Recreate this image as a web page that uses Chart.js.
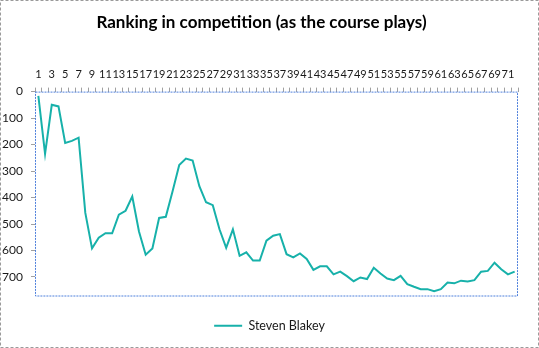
<!DOCTYPE html>
<html>
<head>
<meta charset="utf-8">
<script src="https://cdn.jsdelivr.net/npm/chart.js@4"></script>
<style>
  html, body { margin: 0; padding: 0; background: #fff; }
</style>
</head>
<body>
<canvas id="rankChart" width="539" height="348"></canvas>
<script>
// holes played, 1..72
const holes = [
  1, 2, 3, 4, 5, 6, 7, 8, 9, 10, 11, 12, 13, 14, 15, 16, 17, 18,
  19, 20, 21, 22, 23, 24, 25, 26, 27, 28, 29, 30, 31, 32, 33, 34, 35, 36,
  37, 38, 39, 40, 41, 42, 43, 44, 45, 46, 47, 48, 49, 50, 51, 52, 53, 54,
  55, 56, 57, 58, 59, 60, 61, 62, 63, 64, 65, 66, 67, 68, 69, 70, 71, 72
];

// ranking after each hole
const blakeyRanks = [
  16, 235, 50, 56, 194, 186, 174, 458, 592, 552, 535, 535,
  465, 450, 396, 528, 616, 592, 477, 473, 377, 277, 253, 260,
  357, 418, 429, 520, 590, 520, 620, 607, 638, 638, 563, 544,
  538, 614, 626, 611, 632, 673, 660, 660, 690, 680, 697, 716,
  702, 708, 665, 687, 706, 712, 696, 727, 737, 746, 746, 754,
  746, 721, 724, 714, 717, 712, 680, 677, 646, 671, 690, 680
];

const seriesName = "Steven Blakey";
const chartTitle = "Ranking in competition (as the course plays)";
const rankMax = 770;
const rankStep = 100;

const tickFont = { family: "Lato", size: 11 };
const textColor = "#1a1a1a";

const framePlugin = {
  id: "frame",
  afterLayout(chart) {
    // title sits a little left of centre in the original
    chart.titleBlock.right -= 16;
  },
  beforeDatasetsDraw(chart) {
    const { ctx, chartArea: a } = chart;
    ctx.save();
    ctx.lineWidth = 1;
    ctx.strokeStyle = "#4f80dc";
    ctx.setLineDash([2, 1]);
    ctx.strokeRect(a.left + 0.5, a.top + 0.5, a.right - a.left - 1, a.bottom - a.top);
    ctx.strokeStyle = "#9a9a9a";
    ctx.setLineDash([3, 2]);
    ctx.strokeRect(0.5, 0.5, chart.width - 1, chart.height - 1);
    ctx.restore();
  },
};

new Chart(document.getElementById("rankChart").getContext("2d"), {
  type: "line",
  data: {
    labels: holes,
    datasets: [
      {
        label: seriesName,
        data: blakeyRanks,
        borderColor: "#17b1aa",
        backgroundColor: "#17b1aa",
        borderWidth: 2,
        pointRadius: 0,
        tension: 0,
        fill: false,
      },
    ],
  },
  options: {
    responsive: false,
    animation: false,
    layout: { padding: { left: 0, right: 0, top: 0, bottom: 6 } },
    scales: {
      x: {
        position: "top",
        offset: true,
        grid: { offset: true, drawOnChartArea: false, tickLength: 4, color: "#a0a0a0" },
        border: { display: false },
        ticks: {
          autoSkip: false,
          maxRotation: 0,
          padding: 7,
          font: tickFont,
          color: textColor,
          callback: (v, i) => (i % 2 === 0 ? String(holes[i]) : ""),
        },
      },
      y: {
        reverse: true,
        min: 0,
        max: rankMax,
        afterFit: (scale) => {
          scale.width = 35;
        },
        grid: { drawOnChartArea: false, tickLength: 4, color: "#a0a0a0" },
        border: { display: false },
        ticks: {
          stepSize: rankStep,
          includeBounds: false,
          padding: 8,
          font: { family: "Lato", size: 12 },
          color: textColor,
        },
      },
      // empty right-hand strip, keeps the plot off the right edge
      yRight: {
        type: "linear",
        position: "right",
        afterFit: (scale) => {
          scale.width = 21;
        },
        grid: { display: false },
        border: { display: false },
        ticks: { display: false },
      },
    },
    plugins: {
      title: {
        display: true,
        text: chartTitle,
        color: "#000",
        font: { family: "Lato", size: 17, weight: "bold" },
        padding: { top: 12, bottom: 28 },
      },
      legend: {
        position: "bottom",
        labels: {
          usePointStyle: true,
          pointStyle: "line",
          pointStyleWidth: 28,
          padding: 24,
          color: textColor,
          font: { family: "Lato", size: 12.5 },
        },
      },
      tooltip: { enabled: false },
    },
  },
  plugins: [framePlugin],
});
</script>
</body>
</html>
